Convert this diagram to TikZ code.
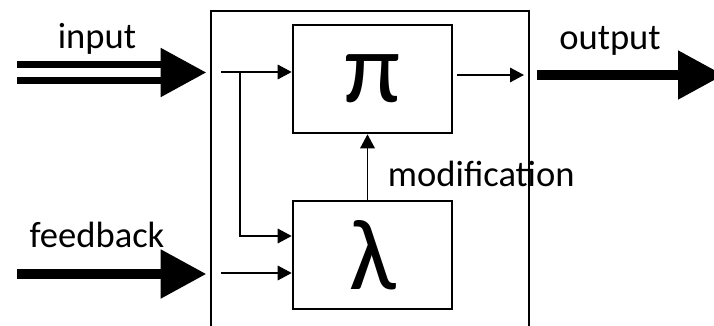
\documentclass[tikz,border=0pt]{standalone}
\usepackage{fontspec}
\setmainfont{Carlito}
\usetikzlibrary{arrows.meta,positioning}

\begin{document}
\begin{tikzpicture}[x=0.025cm, y=-0.025cm,
  every node/.style={font=\fontsize{26}{30}\selectfont},
  block/.style={draw, line width=1.8pt, minimum width=3.975cm, minimum height=2.7cm, inner sep=0pt, font=\fontsize{72}{72}\selectfont},
  wire/.style={line width=1.4pt, -{Triangle[length=0.35cm,width=0.36cm]}},
  fat/.style={line width=7.8pt, -{Triangle[length=1.15cm,width=1.15cm]}}]
  \useasboundingbox (0,0) rectangle (714,326);

  % System box (runs off the bottom)
  \node[draw, line width=1.8pt, minimum width=7.95cm, minimum height=8.5cm, inner sep=0pt] (sys) at (370,181) {};

  % Policy and learner
  \node[block] (pi) at (372.5,79) {π};
  \node[block] (lam) at (372.5,255) {λ};

  % Input (double line)
  \coordinate (instart) at (17,72.5);
  \coordinate (inhead) at (163,72.5);
  \draw[line width=5pt, double=white, double distance=5.7pt] (instart) -- (inhead);
  \draw[fat, shorten >=0.075cm] (inhead) -- (inhead -| sys.west);
  \node[anchor=base] (inlbl) at (97,49) {input};

  % Feedback
  \coordinate (fbstart) at (17,274);
  \draw[fat, shorten >=0.075cm] (fbstart) -- (fbstart -| sys.west);
  \node[anchor=base] (fblbl) at (97,247) {feedback};

  % Inside wiring
  \coordinate (infork) at (221,72);
  \coordinate (branch) at (240,72);
  \draw[wire] (infork) -- (infork -| pi.west);
  \draw[wire] (branch) |- (lam.west |- 0,236);
  \coordinate (fbin) at (221,273);
  \draw[wire] (fbin) -- (fbin -| lam.west);

  % Modification
  \draw[wire] ([xshift=-0.125cm]lam.north) -- ([xshift=-0.125cm]pi.south);
  \node[anchor=base west] (modlbl) at (383,187) {modification};

  % Output
  \coordinate (piout) at (457,75);
  \draw[wire] (piout) -- (524,75);
  \coordinate (outstart) at (537,75);
  \coordinate (outend) at (724,75);
  \draw[fat] (outstart) -- (outend);
  \node[anchor=base] (outlbl) at (610,50) {output};
\end{tikzpicture}
\end{document}
